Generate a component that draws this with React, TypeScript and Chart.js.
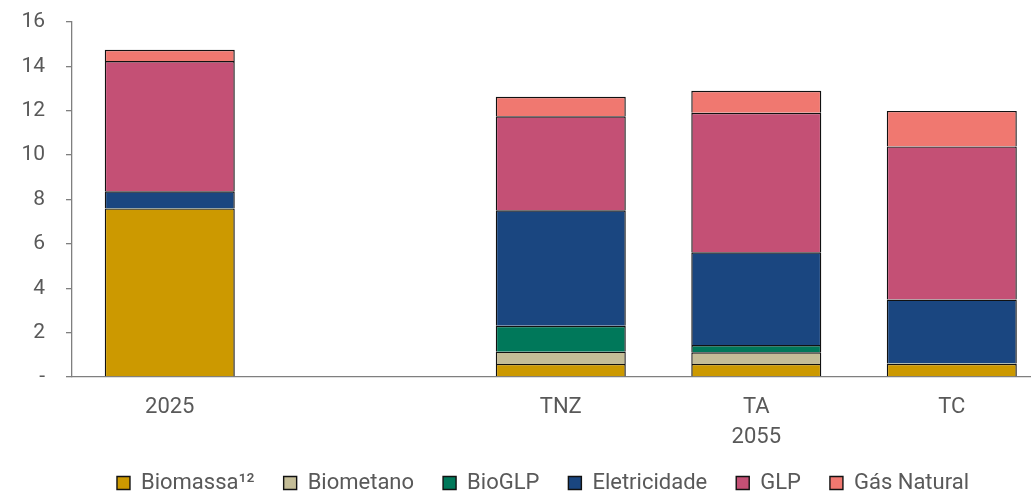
import React, { useEffect, useRef } from "react";
import { Chart, registerables } from "chart.js";

Chart.register(...registerables);

const categories: (string | string[])[] = ["2025", "", "TNZ", ["TA", "2055"], "TC"];
const xPositions = [0, 2, 3, 4];
const yTicks = [0, 2, 4, 6, 8, 10, 12, 14, 16];

const seriesNames = ["Biomassa¹²", "Biometano", "BioGLP", "Eletricidade", "GLP", "Gás Natural"];
const biomassa = [7.6, 0.59, 0.59, 0.59];
const biometano = [0.0, 0.55, 0.52, 0.02];
const bioglp = [0.02, 1.17, 0.33, 0.02];
const eletricidade = [0.75, 5.2, 4.18, 2.86];
const glp = [5.87, 4.24, 6.29, 6.9];
const gasNatural = [0.51, 0.88, 0.99, 1.6];
const colors = ["#CC9900", "#C4BD97", "#00785A", "#1A4680", "#C45075", "#F07870"];

const FONT = "Roboto, 'Liberation Sans', Arial, sans-serif";
const TEXT = "#595959";
const AXIS = "#7F7F7F";

const legendShift = {
  id: "legendShift",
  afterLayout(chart: any) {
    const l = chart.legend;
    if (l) {
      l.left += 28;
      l.right += 28;
    }
  },
};

export default function App() {
  const ref = useRef<HTMLCanvasElement | null>(null);
  useEffect(() => {
    if (!ref.current) return;
    const series = [biomassa, biometano, bioglp, eletricidade, glp, gasNatural];
    const chart = new Chart(ref.current, {
      type: "bar",
      plugins: [legendShift],
      data: {
        datasets: series.map((vals, i) => ({
          label: seriesNames[i],
          data: vals.map((v, j) => ({ x: xPositions[j], y: v })),
          backgroundColor: colors[i],
          borderColor: "#111111",
          borderWidth: 1.4,
          barPercentage: 0.665,
          categoryPercentage: 1,
        })),
      },
      options: {
        animation: false,
        responsive: true,
        maintainAspectRatio: false,
        layout: { padding: { top: 22, right: 1, left: 0, bottom: 0 } },
        plugins: {
          tooltip: { enabled: false },
          legend: {
            position: "bottom",
            labels: {
              boxWidth: 13,
              boxHeight: 13,
              padding: 29,
              color: TEXT,
              font: { family: FONT, size: 22 },
            },
          },
        },
        scales: {
          x: {
            type: "linear",
            stacked: true,
            offset: false,
            min: -0.5,
            max: 4.4,
            afterBuildTicks: (scale: any) => {
              scale.ticks = categories.map((_, i) => ({ value: i }));
            },
            afterFit: (scale: any) => {
              scale.height = 66;
              scale.paddingLeft = 0;
              scale.paddingRight = 0;
            },
            grid: { display: false, drawTicks: false, offset: false },
            border: { display: true, color: AXIS, width: 1.3 },
            ticks: {
              padding: 15,
              color: TEXT,
              maxRotation: 0,
              autoSkip: false,
              font: { family: FONT, size: 22, lineHeight: 30 / 22 },
              callback: (v: any) => categories[Math.round(Number(v))] ?? "",
            },
          },
          y: {
            stacked: true,
            min: 0,
            max: 16,
            afterBuildTicks: (scale: any) => {
              scale.ticks = yTicks.map((v) => ({ value: v }));
            },
            afterFit: (scale: any) => {
              scale.width = 72;
              scale.paddingTop = 0;
              scale.paddingBottom = 0;
            },
            grid: {
              display: true,
              drawOnChartArea: false,
              drawTicks: true,
              tickLength: 6,
              color: AXIS,
              lineWidth: 1.3,
            },
            border: { display: true, color: AXIS, width: 1.3 },
            ticks: {
              padding: 21,
              color: TEXT,
              font: { family: FONT, size: 21 },
              callback: (v: any) => (Number(v) === 0 ? "-" : String(v)),
            },
          },
        },
      },
    });
    return () => chart.destroy();
  }, []);
  return (
    <div style={{ position: "fixed", left: 0, top: 0, width: 1031, height: 504, background: "#fff" }}>
      <canvas ref={ref} />
    </div>
  );
}
